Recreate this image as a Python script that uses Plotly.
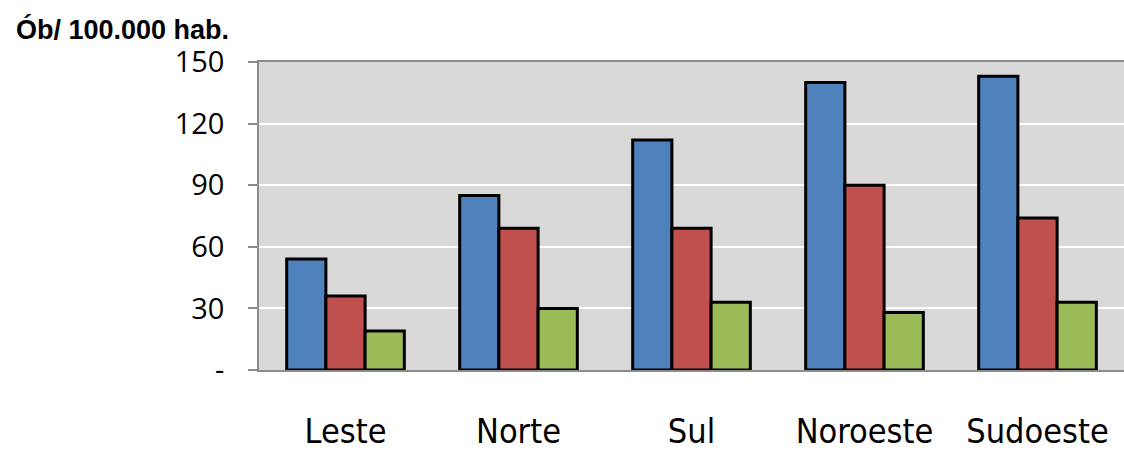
import plotly.graph_objects as go

# Regiões e taxas (óbitos por 100.000 habitantes)
regioes = ["Leste", "Norte", "Sul", "Noroeste", "Sudoeste"]
serie_1 = [54, 85, 112, 140, 143]
serie_2 = [36, 69, 69, 90, 74]
serie_3 = [19, 30, 33, 28, 33]

y_ticks = [0, 30, 60, 90, 120, 150]
y_tick_text = ["-", "30", "60", "90", "120", "150"]

cores = ["#4F81BD", "#C0504D", "#9BBB59"]

fig = go.Figure()
for nome, valores, cor in zip(["Série 1", "Série 2", "Série 3"],
                              [serie_1, serie_2, serie_3], cores):
    fig.add_trace(go.Bar(
        x=regioes, y=valores, name=nome,
        marker=dict(color=cor, line=dict(color="black", width=3)),
    ))

fig.update_layout(
    width=1124, height=450,
    margin=dict(l=259, r=0, t=62, b=80),
    paper_bgcolor="white",
    plot_bgcolor="#D9D9D9",
    barmode="group",
    bargap=0.32,
    bargroupgap=0,
    showlegend=False,
    font=dict(family="Open Sans", color="black"),
    xaxis=dict(
        automargin=False,
        showline=True, linecolor="#8C8C8C", linewidth=1.5, mirror=True,
        showgrid=False, ticks="",
        tickfont=dict(family="DejaVu Sans Condensed, DejaVu Sans", size=34,
                      color="black"),
        ticklabelstandoff=30,
    ),
    yaxis=dict(
        automargin=False,
        range=[0, 150],
        tickvals=y_ticks, ticktext=y_tick_text,
        showline=True, linecolor="#8C8C8C", linewidth=1.5,
        showgrid=True, gridcolor="white", gridwidth=1.5,
        ticks="outside", ticklen=9, tickcolor="#8C8C8C", tickwidth=1.5,
        tickfont=dict(family="Open Sans", size=29, color="black"),
        ticklabelstandoff=18,
        zeroline=False,
    ),
    annotations=[dict(
        text="<b>Ób/ 100.000 hab.</b>",
        xref="paper", yref="paper",
        x=-259 / 865 + 14 / 865, y=1 + 32 / 308,
        xanchor="left", yanchor="middle",
        showarrow=False,
        font=dict(family="Liberation Sans", size=27, color="black"),
    )],
)

fig.write_html("out.html")
